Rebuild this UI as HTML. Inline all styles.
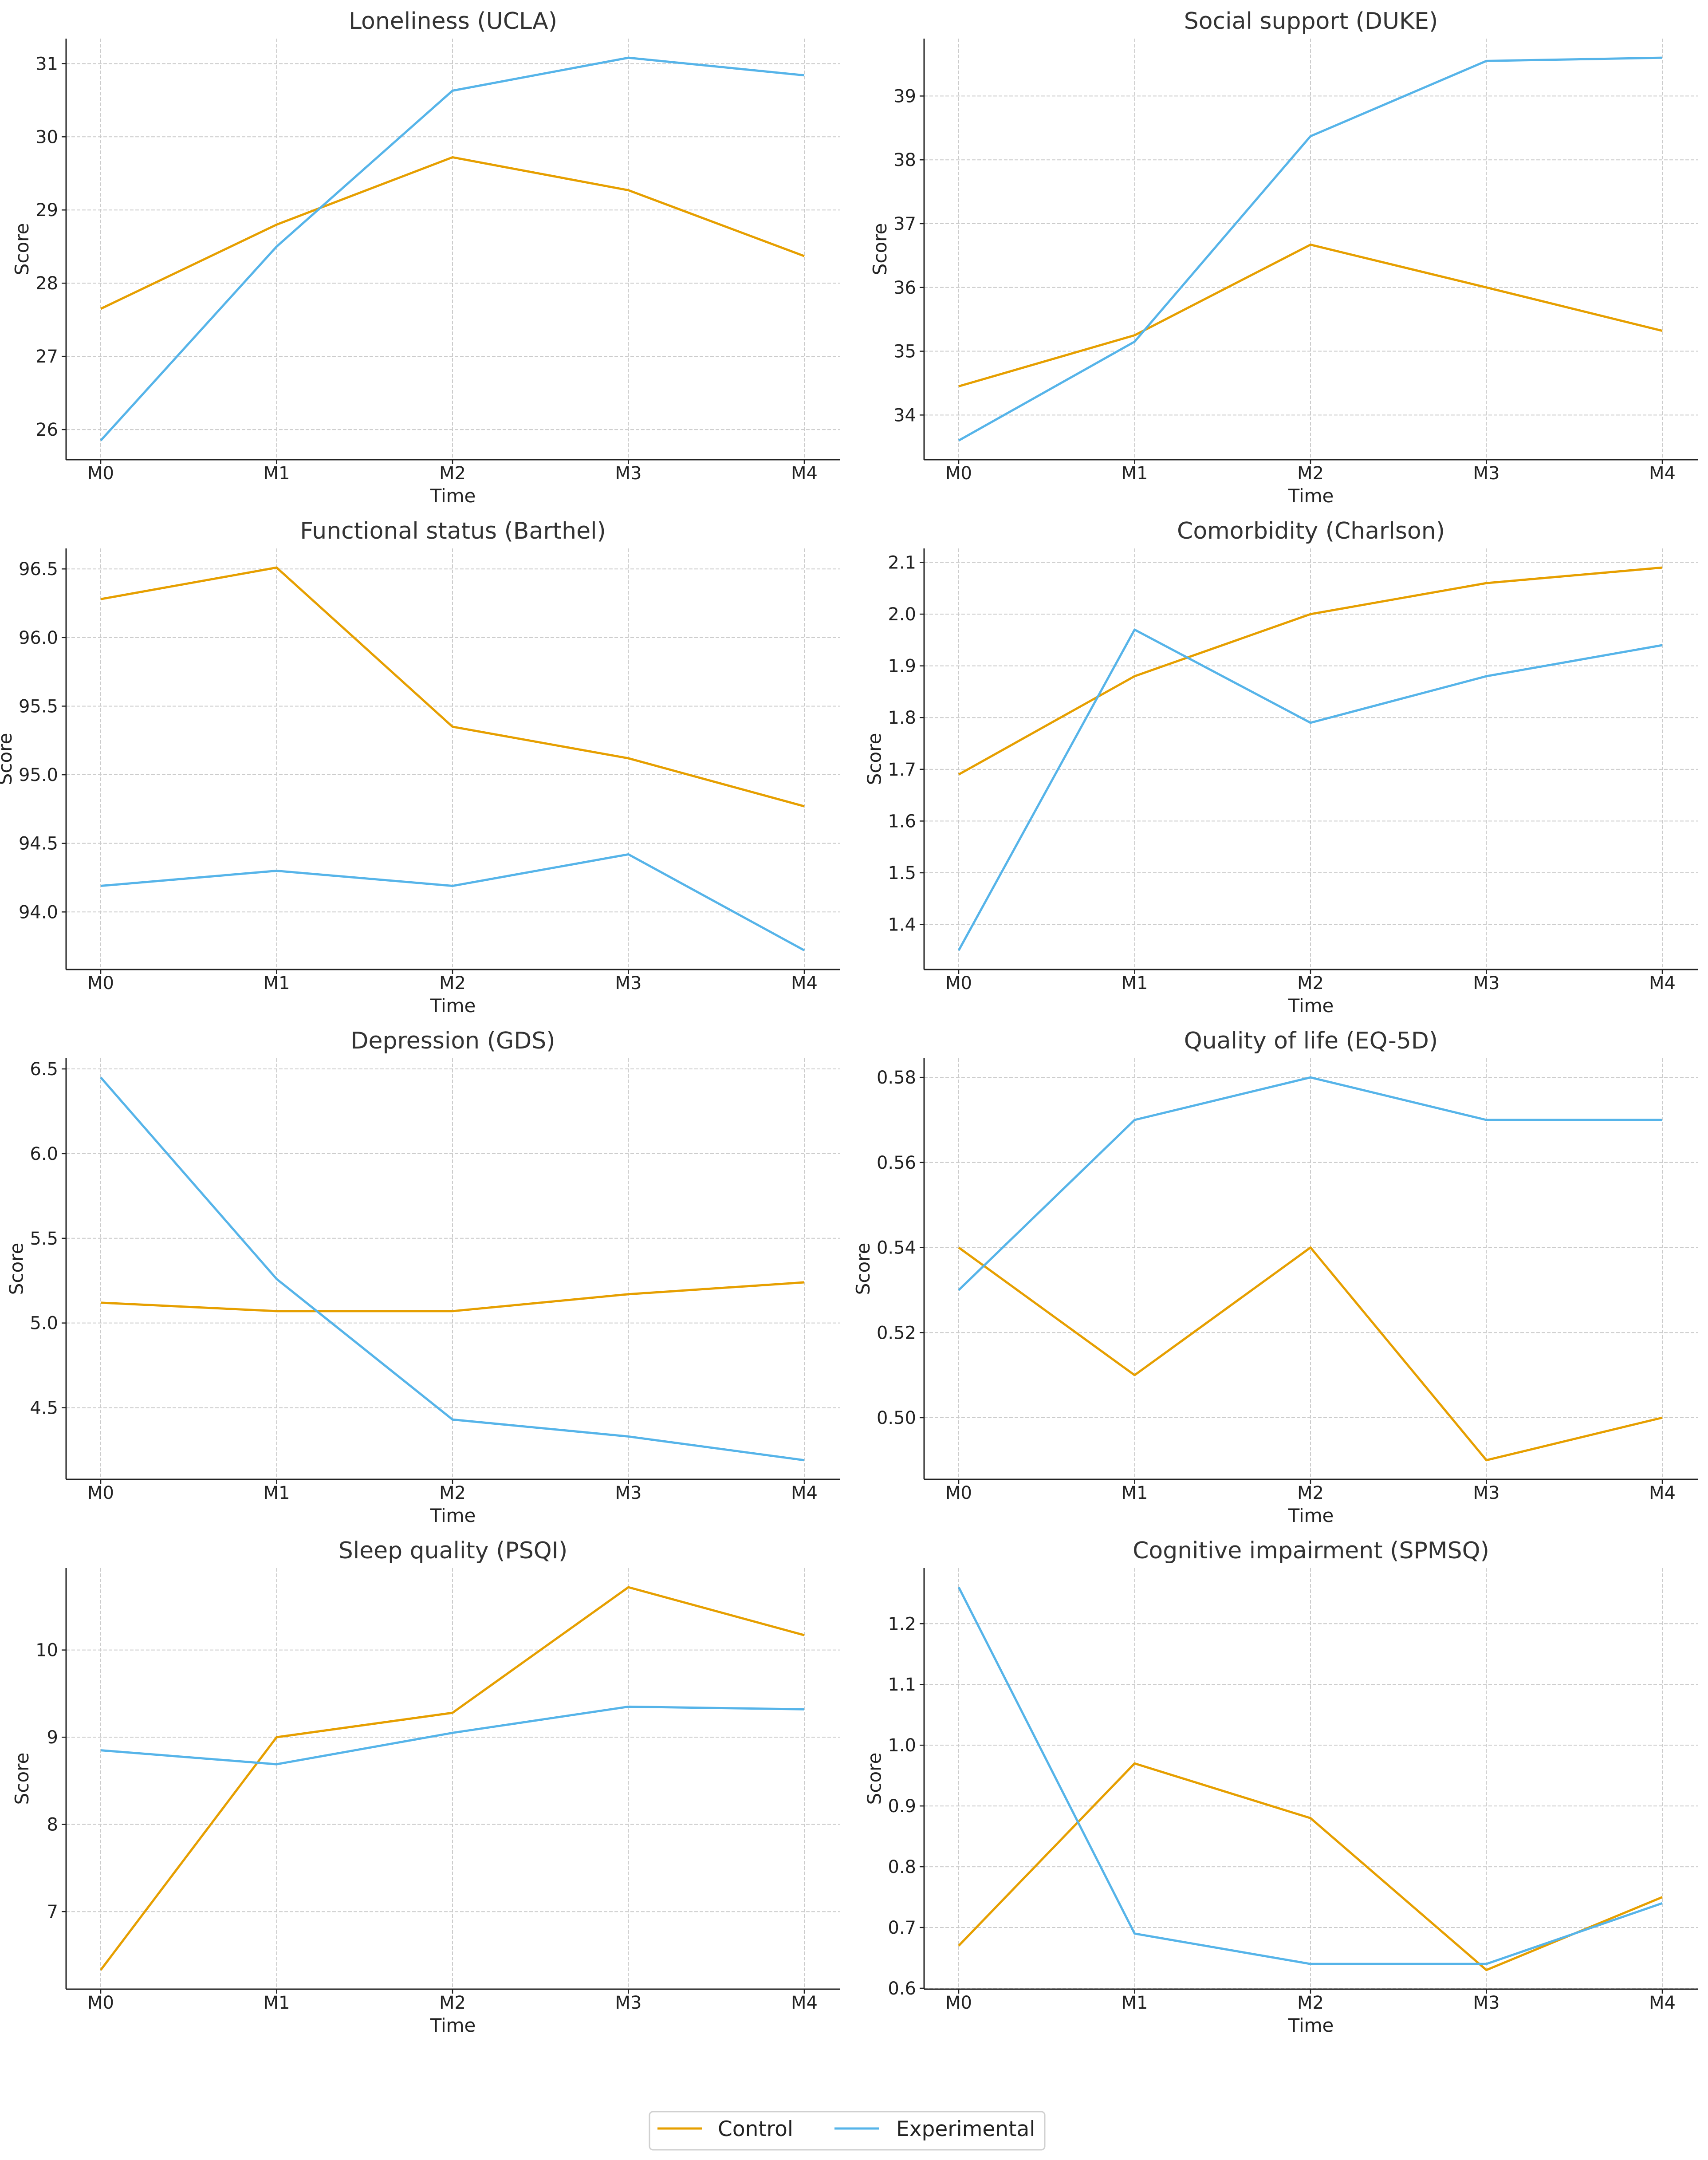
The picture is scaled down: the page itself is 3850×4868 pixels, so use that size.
<!DOCTYPE html>
<html><head><meta charset="utf-8"><style>
html,body{margin:0;padding:0;background:#fff;}
svg{display:block;font-family:"DejaVu Sans","Liberation Sans",sans-serif;}
</style></head><body>
<svg id="fig" width="3850" height="4868" viewBox="0 0 3850 4868" xmlns="http://www.w3.org/2000/svg"></svg>
<script>
const categories = ["M0","M1","M2","M3","M4"];
const titles = ["Loneliness (UCLA)","Social support (DUKE)","Functional status (Barthel)","Comorbidity (Charlson)","Depression (GDS)","Quality of life (EQ-5D)","Sleep quality (PSQI)","Cognitive impairment (SPMSQ)"];
const controlSeries = [
 [27.65,28.8,29.72,29.27,28.37],
 [34.45,35.25,36.67,36.0,35.32],
 [96.28,96.51,95.35,95.12,94.77],
 [1.69,1.88,2.00,2.06,2.09],
 [5.12,5.07,5.07,5.17,5.24],
 [0.54,0.51,0.54,0.49,0.50],
 [6.33,9.0,9.28,10.72,10.17],
 [0.67,0.97,0.88,0.63,0.75]
];
const experimentalSeries = [
 [25.85,28.5,30.63,31.08,30.84],
 [33.6,35.15,38.37,39.55,39.6],
 [94.19,94.30,94.19,94.42,93.72],
 [1.35,1.97,1.79,1.88,1.94],
 [6.45,5.26,4.43,4.33,4.19],
 [0.53,0.57,0.58,0.57,0.57],
 [8.85,8.69,9.05,9.35,9.32],
 [1.26,0.69,0.64,0.64,0.74]
];
const yTickLabels = [
 ["26","27","28","29","30","31"],
 ["34","35","36","37","38","39"],
 ["94.0","94.5","95.0","95.5","96.0","96.5"],
 ["1.4","1.5","1.6","1.7","1.8","1.9","2.0","2.1"],
 ["4.5","5.0","5.5","6.0","6.5"],
 ["0.50","0.52","0.54","0.56","0.58"],
 ["7","8","9","10"],
 ["0.6","0.7","0.8","0.9","1.0","1.1","1.2"]
];
const legendLabels = ["Control","Experimental"];

const NS="http://www.w3.org/2000/svg";
const svg=document.getElementById('fig');
function mk(tag,attrs,parent){const e=document.createElementNS(NS,tag);for(const k in attrs)e.setAttribute(k,attrs[k]);(parent||svg).appendChild(e);return e;}
const C_CTRL="#E69F00", C_EXP="#56B4E9";
const colLeft=[149,2083], axW=1744, rowTop=[87,1236,2385,3534], axH=949;
for(let p=0;p<8;p++){
  const col=p%2,row=Math.floor(p/2);
  const L=colLeft[col],T=rowTop[row],R=L+axW,B=T+axH;
  const g=mk('g',{});
  
  
  const all=controlSeries[p].concat(experimentalSeries[p]);
  const mn=Math.min(...all),mx=Math.max(...all),pad=(mx-mn)*0.05;
  const y0=mn-pad,y1=mx+pad;
  const x0=L+78,x1=R-80;
  const xs=i=>x0+(x1-x0)*i/(categories.length-1);
  const ys=v=>B-(v-y0)/(y1-y0)*axH;
  let maxW=0;
  yTickLabels[p].forEach(t=>{
    const y=ys(parseFloat(t));
    const gl=mk('line',{x1:L,x2:R,y1:y,y2:y,stroke:"#cccccc","stroke-width":2,"stroke-dasharray":"8,4"},g);
    
    
    mk('line',{x1:L-10,x2:L,y1:y,y2:y,stroke:"#222","stroke-width":2.5},g);
    const tx=mk('text',{x:L-18,y:y+14,"text-anchor":"end","font-size":40,fill:"#222"},g);
    tx.textContent=t;
    
    
    maxW=Math.max(maxW,tx.getComputedTextLength());
  });
  categories.forEach((c,i)=>{
    const x=xs(i);
    const gl=mk('line',{x1:x,x2:x,y1:T,y2:B,stroke:"#cccccc","stroke-width":2,"stroke-dasharray":"8,4"},g);
    
    
    mk('line',{x1:x,x2:x,y1:B,y2:B+10,stroke:"#222","stroke-width":2.5},g);
    const tx=mk('text',{x:x,y:B+44,"text-anchor":"middle","font-size":40,fill:"#222"},g);
    tx.textContent=c;
    
    
  });
  mk('line',{x1:L,x2:L,y1:T,y2:B,stroke:"#222","stroke-width":3},g);
  mk('line',{x1:L,x2:R,y1:B,y2:B,stroke:"#222","stroke-width":3},g);
  [[controlSeries[p],C_CTRL,'control-line'],[experimentalSeries[p],C_EXP,'experimental-line']].forEach(([s,c,n])=>{
    const pl=mk('polyline',{points:s.map((v,i)=>xs(i)+","+ys(v)).join(" "),fill:"none",stroke:c,"stroke-width":5,"stroke-linejoin":"round"},g);
    
    
  });
  const tt=mk('text',{x:(L+R)/2,y:T-22,"text-anchor":"middle","font-size":52,fill:"#333"},g);
  tt.textContent=titles[p];
  
  
  const xl=mk('text',{x:(L+R)/2,y:B+96,"text-anchor":"middle","font-size":42,fill:"#222"},g);
  xl.textContent="Time";
  
  
  const yx=Math.max(L-18-maxW-16,24);
  const yl=mk('text',{x:0,y:0,"text-anchor":"middle","font-size":42,fill:"#222",transform:`translate(${yx},${(T+B)/2}) rotate(-90)`},g);
  yl.textContent="Score";
  
  
}
const lg=mk('g',{});


mk('rect',{x:1464,y:4759,width:891,height:86,rx:8,fill:"#fff",stroke:"#d0d0d0","stroke-width":3},lg);
const lx=[1482,1881],tx=[1618,2020],cols=[C_CTRL,C_EXP];
legendLabels.forEach((lab,i)=>{
  const e=mk('g',{},lg);
  
  
  mk('line',{x1:lx[i],x2:lx[i]+100,y1:4797,y2:4797,stroke:cols[i],"stroke-width":5},e);
  const t=mk('text',{x:tx[i],y:4814,"font-size":47,fill:"#222"},e);
  t.textContent=lab;
});
</script>
</body></html>
